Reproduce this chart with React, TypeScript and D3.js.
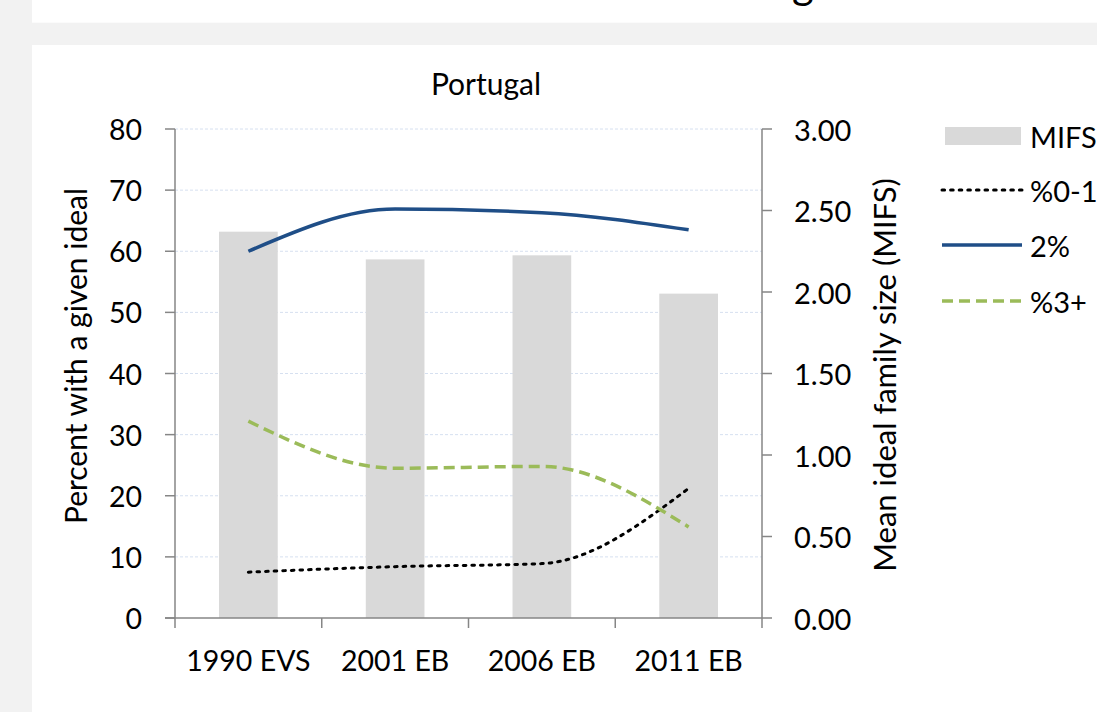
import * as d3 from 'd3';

// survey waves on the x axis
const categories = ['1990 EVS', '2001 EB', '2006 EB', '2011 EB'];
// mean ideal family size (right axis, bars)
const mifs = [2.37, 2.2, 2.225, 1.99];
// percent with a given ideal (left axis, lines)
const pct01 = [7.5, 8.4, 8.9, 21.2];
const pct2 = [60.0, 66.9, 66.3, 63.5];
const pct3 = [32.2, 24.5, 24.8, 14.9];
const leftTicks = [0, 10, 20, 30, 40, 50, 60, 70, 80];
const rightTicks = [0, 0.5, 1, 1.5, 2, 2.5, 3];

const W = 1097;
const H = 712;
const FONT = 'Lato, "Open Sans", sans-serif';
const AXIS = '#868686';

export default function App() {
  const left = 175;
  const right = 762;
  const top = 129;
  const bottom = 618;

  const x = d3.scaleBand<string>()
    .domain(categories)
    .range([left, right])
    .paddingInner(0.6)
    .paddingOuter(0.3);
  const step = x.step();
  const cx = (c: string) => (x(c) as number) + x.bandwidth() / 2;

  const yL = d3.scaleLinear().domain([0, 80]).range([bottom, top]);
  const yR = d3.scaleLinear().domain([0, 3]).range([bottom, top]);

  const line = d3.line<number>()
    .x((_, i) => cx(categories[i]))
    .y(d => yL(d))
    .curve(d3.curveMonotoneX);

  const series = [
    { name: '%0-1', values: pct01, color: '#000000', width: 3, dash: '2.6,6', cap: 'round' as const },
    { name: '2%', values: pct2, color: '#1f4e87', width: 3.5, dash: undefined, cap: 'butt' as const },
    { name: '%3+', values: pct3, color: '#9bbb59', width: 3.5, dash: '11,6', cap: 'butt' as const },
  ];

  // category boundaries for x ticks
  const xBounds = d3.range(categories.length + 1).map(i => left + i * step);

  return (
    <div style={{ position: 'fixed', left: 0, top: 0 }}>
      <svg width={W} height={H} style={{ display: 'block', fontFamily: FONT }}>
        <rect x={0} y={0} width={W} height={H} fill="#f2f2f2" />
        <rect x={32} y={0} width={W - 32} height={22.7} fill="#ffffff" />
        <text x={50} y={-1} fontSize={42} fill="#000">
          Decline of the three-or-more ideal among families
        </text>
        <rect x={32} y={45} width={W - 32} height={H - 45} fill="#ffffff" />

        <text x={486} y={95} fontSize={30} textAnchor="middle" fill="#000">Portugal</text>

        {/* gridlines */}
        {leftTicks.filter(t => t > 0).map(t => (
          <line key={t} x1={left} x2={right} y1={yL(t)} y2={yL(t)}
            stroke="#d6e0f0" strokeWidth={1} strokeDasharray="3,2" />
        ))}

        {/* bars */}
        {categories.map((c, i) => (
          <rect key={c} x={x(c)} y={yR(mifs[i])} width={x.bandwidth()}
            height={bottom - yR(mifs[i])} fill="#d9d9d9" />
        ))}

        {/* lines */}
        {series.map(s => (
          <path key={s.name} d={line(s.values) || ''} fill="none" stroke={s.color}
            strokeWidth={s.width} strokeDasharray={s.dash} strokeLinecap={s.cap}
            strokeLinejoin="round" />
        ))}

        {/* left axis */}
        <line x1={left} x2={left} y1={top} y2={bottom} stroke={AXIS} strokeWidth={1.5} />
        {leftTicks.map(t => (
          <g key={t}>
            <line x1={left - 10} x2={left} y1={yL(t)} y2={yL(t)} stroke={AXIS} strokeWidth={1.5} />
            <text x={142} y={yL(t)} fontSize={28.5} textAnchor="end" dominantBaseline="central" fill="#000">{t}</text>
          </g>
        ))}

        {/* right axis */}
        <line x1={right} x2={right} y1={top} y2={bottom} stroke={AXIS} strokeWidth={1.5} />
        {rightTicks.map(t => (
          <g key={t}>
            <line x1={right} x2={right + 10} y1={yR(t)} y2={yR(t)} stroke={AXIS} strokeWidth={1.5} />
            <text x={794} y={yR(t)} fontSize={29} textAnchor="start" dominantBaseline="central" fill="#000">{t.toFixed(2)}</text>
          </g>
        ))}

        {/* x axis */}
        <line x1={left - 10} x2={right} y1={bottom} y2={bottom} stroke={AXIS} strokeWidth={1.5} />
        {xBounds.map((b, i) => (
          <line key={i} x1={b} x2={b} y1={bottom} y2={bottom + 10} stroke={AXIS} strokeWidth={1.5} />
        ))}
        {categories.map(c => (
          <text key={c} x={cx(c)} y={671} fontSize={28.5} textAnchor="middle" fill="#000">{c}</text>
        ))}

        {/* axis titles */}
        <text transform={`translate(75,356) rotate(-90)`} fontSize={30} textAnchor="middle"
          dominantBaseline="central" fill="#000">Percent with a given ideal</text>
        <text transform={`translate(884,375) rotate(-90)`} fontSize={31} textAnchor="middle"
          dominantBaseline="central" fill="#000">Mean ideal family size (MIFS)</text>

        {/* legend */}
        <rect x={945} y={127} width={76} height={18} fill="#d9d9d9" />
        <text x={1030} y={136} fontSize={29} dominantBaseline="central" fill="#000">MIFS</text>
        {series.map((s, i) => {
          const ly = [190, 245, 301][i];
          return (
            <g key={s.name}>
              <line x1={942} x2={1022} y1={ly} y2={ly} stroke={s.color} strokeWidth={s.width}
                strokeDasharray={s.dash} strokeLinecap={s.cap} />
              <text x={1030} y={ly} fontSize={29} dominantBaseline="central" fill="#000">{s.name}</text>
            </g>
          );
        })}
      </svg>
    </div>
  );
}
